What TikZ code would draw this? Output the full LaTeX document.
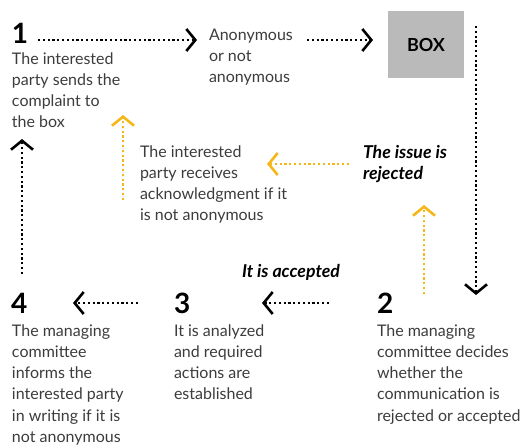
\documentclass[tikz,border=0pt]{standalone}
\usepackage{fontspec}
\setmainfont{Lato}
\usetikzlibrary{arrows.meta}
\definecolor{txt}{HTML}{3C3C3C}
\definecolor{amber}{HTML}{F5B716}
\definecolor{boxgray}{HTML}{BABABA}
\tikzset{
  every node/.style={inner sep=0pt, outer sep=0pt},
  body/.style={anchor=base west, align=left, font=\fontsize{16}{21.3}\selectfont, text=txt},
  num/.style={anchor=base west, font=\fontsize{28}{28}\selectfont\bfseries, text=black},
  emphlabel/.style={anchor=base west, align=left, font=\fontsize{17.7}{21.3}\selectfont\bfseries\itshape, text=black},
  graybox/.style={fill=boxgray, minimum width=76pt, minimum height=67pt, font=\fontsize{18}{18}\selectfont\bfseries, text=black},
  flow/.style={line width=2.2pt, dash pattern=on 2.2pt off 2.6pt, -{Straight Barb[length=9pt,width=22pt,line width=2.6pt]}},
  blackflow/.style={flow, draw=black},
  amberflow/.style={flow, draw=amber},
}
\begin{document}
\begin{tikzpicture}[x=1pt, y=-1pt]
\useasboundingbox (0,0) rectangle (521,447);

% base anchors of multi-line texts sit on their last line
\node[num] (n1) at (12,43) {1};
\node[body] (t1) at (12,127.9) {The interested\\party sends the\\complaint to\\the box};
\node[body] (anon) at (209,82.6) {Anonymous\\or not\\anonymous};
\node[graybox] (box) at (426,44.5) {BOX};
\node[num] (n2) at (377,313) {2};
\node[body] (t2) at (377,421.2) {The managing\\committee decides\\whether the\\communication is\\rejected or accepted};
\node[emphlabel] (rej) at (363,179.3) {The issue is\\rejected};
\node[body] (ack) at (140,220.9) {The interested\\party receives\\acknowledgment if it\\is not anonymous};
\node[emphlabel] (acc) at (242,277) {It is accepted};
\node[num] (n3) at (174,313) {3};
\node[body] (t3) at (174,399.9) {It is analyzed\\and required\\actions are\\established};
\node[num] (n4) at (11,313) {4};
\node[body] (t4) at (12,442.5) {The managing\\committee\\informs the\\interested party\\in writing if it is\\not anonymous};

% black connectors
\draw[blackflow] ([shift={(26,-3)}]n1.base west) -- ([shift={(-12,-42.6)}]anon.base west);
\draw[blackflow] ([shift={(98,-42.6)}]anon.base west) -- ([shift={(-15,-4.5)}]box.west);
\draw[blackflow] ([shift={(12,15)}]box.north east) -- ([shift={(99,-18)}]n2.base west);
\draw[blackflow] ([shift={(-48,-10)}]n2.base west) -- ([shift={(88,-10)}]n3.base west);
\draw[blackflow] ([shift={(-36,-10)}]n3.base west) -- ([shift={(62,-10)}]n4.base west);
\draw[blackflow] ([shift={(11,-39)}]n4.base west) -- ([shift={(10,11.1)}]t1.base west);

% amber connectors
\draw[amberflow] ([shift={(47,-19)}]n2.base west) -- ([shift={(61,25.7)}]rej.base west);
\draw[amberflow] ([shift={(-14,-15.3)}]rej.base west) -- ([shift={(127,-56.9)}]ack.base west);
\draw[amberflow] ([shift={(-17,-20.9)}]ack.base west) -- ([shift={(111,-12.9)}]t1.base west);
\end{tikzpicture}
\end{document}
